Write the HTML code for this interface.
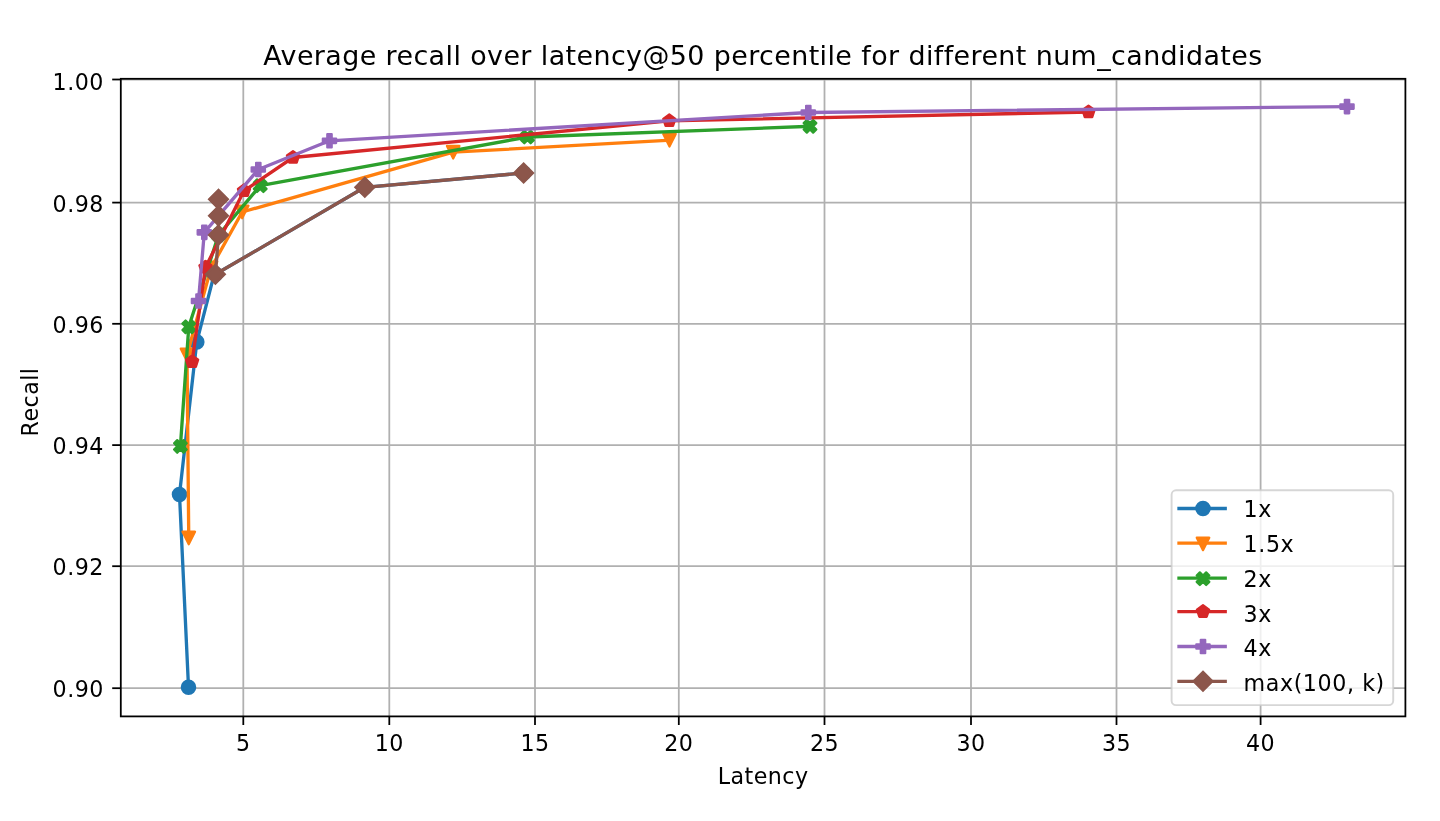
<!DOCTYPE html>
<html lang="en">
<head>
<meta charset="utf-8">
<title>Average recall over latency@50 percentile for different num_candidates</title>
<style>html,body{margin:0;padding:0;background:#fff;}body{width:1440px;height:821px;overflow:hidden;}svg{display:block;}</style>
</head>
<body>
<svg width="1440" height="821" viewBox="0 0 1440 821" font-family='"DejaVu Sans", "Liberation Sans", sans-serif' fill="#000" letter-spacing="0.45">
<rect width="1440" height="821" fill="#fff"/>
<g stroke="#b0b0b0" stroke-width="1.78" fill="none">
<line x1="243.3" y1="78.8" x2="243.3" y2="716.4"/>
<line x1="389.3" y1="78.8" x2="389.3" y2="716.4"/>
<line x1="535" y1="78.8" x2="535" y2="716.4"/>
<line x1="678.8" y1="78.8" x2="678.8" y2="716.4"/>
<line x1="824.5" y1="78.8" x2="824.5" y2="716.4"/>
<line x1="971" y1="78.8" x2="971" y2="716.4"/>
<line x1="1116.5" y1="78.8" x2="1116.5" y2="716.4"/>
<line x1="1260.6" y1="78.8" x2="1260.6" y2="716.4"/>
<line x1="120.8" y1="79.5" x2="1405.4" y2="79.5"/>
<line x1="120.8" y1="202.6" x2="1405.4" y2="202.6"/>
<line x1="120.8" y1="323.8" x2="1405.4" y2="323.8"/>
<line x1="120.8" y1="445.1" x2="1405.4" y2="445.1"/>
<line x1="120.8" y1="566.2" x2="1405.4" y2="566.2"/>
<line x1="120.8" y1="688.2" x2="1405.4" y2="688.2"/>
</g>
<g stroke="#000" stroke-width="1.78" fill="none">
<line x1="243.3" y1="716.4" x2="243.3" y2="725"/>
<line x1="389.3" y1="716.4" x2="389.3" y2="725"/>
<line x1="535" y1="716.4" x2="535" y2="725"/>
<line x1="678.8" y1="716.4" x2="678.8" y2="725"/>
<line x1="824.5" y1="716.4" x2="824.5" y2="725"/>
<line x1="971" y1="716.4" x2="971" y2="725"/>
<line x1="1116.5" y1="716.4" x2="1116.5" y2="725"/>
<line x1="1260.6" y1="716.4" x2="1260.6" y2="725"/>
<line x1="112.2" y1="79.5" x2="120.8" y2="79.5"/>
<line x1="112.2" y1="202.6" x2="120.8" y2="202.6"/>
<line x1="112.2" y1="323.8" x2="120.8" y2="323.8"/>
<line x1="112.2" y1="445.1" x2="120.8" y2="445.1"/>
<line x1="112.2" y1="566.2" x2="120.8" y2="566.2"/>
<line x1="112.2" y1="688.2" x2="120.8" y2="688.2"/>
</g>
<clipPath id="axclip"><rect x="120.8" y="78.8" width="1284.6" height="637.6"/></clipPath>
<g clip-path="url(#axclip)">
<polyline points="188.5,687.2 179.5,494.5 196.8,341.9 213.9,275.4 215.4,274.3 364.8,187.3 523.6,173" fill="none" stroke="#1f77b4" stroke-width="3.33" stroke-linejoin="round" stroke-linecap="square"/>
<circle cx="188.5" cy="687.2" r="6.67" fill="#1f77b4" stroke="#1f77b4" stroke-width="2.22"/>
<circle cx="179.5" cy="494.5" r="6.67" fill="#1f77b4" stroke="#1f77b4" stroke-width="2.22"/>
<circle cx="196.8" cy="341.9" r="6.67" fill="#1f77b4" stroke="#1f77b4" stroke-width="2.22"/>
<circle cx="215.4" cy="274.3" r="6.67" fill="#1f77b4" stroke="#1f77b4" stroke-width="2.22"/>
<circle cx="364.8" cy="187.3" r="6.67" fill="#1f77b4" stroke="#1f77b4" stroke-width="2.22"/>
<circle cx="523.6" cy="173" r="6.67" fill="#1f77b4" stroke="#1f77b4" stroke-width="2.22"/>
<polyline points="188.75,538 187,355 211,268 242.2,212 453.2,152.2 669.5,140.3" fill="none" stroke="#ff7f0e" stroke-width="3.33" stroke-linejoin="round" stroke-linecap="square"/>
<polygon points="188.75,544.27 195.02,531.73 182.48,531.73" fill="#ff7f0e" stroke="#ff7f0e" stroke-width="2.22" stroke-linejoin="round"/>
<polygon points="187,361.27 193.27,348.73 180.73,348.73" fill="#ff7f0e" stroke="#ff7f0e" stroke-width="2.22" stroke-linejoin="round"/>
<polygon points="211,274.27 217.27,261.73 204.73,261.73" fill="#ff7f0e" stroke="#ff7f0e" stroke-width="2.22" stroke-linejoin="round"/>
<polygon points="242.2,218.27 248.47,205.73 235.93,205.73" fill="#ff7f0e" stroke="#ff7f0e" stroke-width="2.22" stroke-linejoin="round"/>
<polygon points="453.2,158.47 459.47,145.93 446.93,145.93" fill="#ff7f0e" stroke="#ff7f0e" stroke-width="2.22" stroke-linejoin="round"/>
<polygon points="669.5,146.57 675.77,134.03 663.23,134.03" fill="#ff7f0e" stroke="#ff7f0e" stroke-width="2.22" stroke-linejoin="round"/>
<polyline points="180.4,446.4 188.75,326.8 218.5,235.1 260.2,185.7 527.5,137 810,126.3" fill="none" stroke="#2ca02c" stroke-width="3.33" stroke-linejoin="round" stroke-linecap="square"/>
<polygon points="177.23,440.07 180.4,443.23 183.57,440.07 186.73,443.23 183.57,446.4 186.73,449.57 183.57,452.73 180.4,449.57 177.23,452.73 174.07,449.57 177.23,446.4 174.07,443.23" fill="#2ca02c" stroke="#2ca02c" stroke-width="2.22" stroke-linejoin="round"/>
<polygon points="185.58,320.47 188.75,323.63 191.92,320.47 195.08,323.63 191.92,326.8 195.08,329.97 191.92,333.13 188.75,329.97 185.58,333.13 182.42,329.97 185.58,326.8 182.42,323.63" fill="#2ca02c" stroke="#2ca02c" stroke-width="2.22" stroke-linejoin="round"/>
<polygon points="215.33,228.77 218.5,231.93 221.67,228.77 224.83,231.93 221.67,235.1 224.83,238.27 221.67,241.43 218.5,238.27 215.33,241.43 212.17,238.27 215.33,235.1 212.17,231.93" fill="#2ca02c" stroke="#2ca02c" stroke-width="2.22" stroke-linejoin="round"/>
<polygon points="257.03,179.37 260.2,182.53 263.37,179.37 266.53,182.53 263.37,185.7 266.53,188.87 263.37,192.03 260.2,188.87 257.03,192.03 253.87,188.87 257.03,185.7 253.87,182.53" fill="#2ca02c" stroke="#2ca02c" stroke-width="2.22" stroke-linejoin="round"/>
<polygon points="524.33,130.67 527.5,133.83 530.67,130.67 533.83,133.83 530.67,137 533.83,140.17 530.67,143.33 527.5,140.17 524.33,143.33 521.17,140.17 524.33,137 521.17,133.83" fill="#2ca02c" stroke="#2ca02c" stroke-width="2.22" stroke-linejoin="round"/>
<polygon points="806.83,119.97 810,123.13 813.17,119.97 816.33,123.13 813.17,126.3 816.33,129.47 813.17,132.63 810,129.47 806.83,132.63 803.67,129.47 806.83,126.3 803.67,123.13" fill="#2ca02c" stroke="#2ca02c" stroke-width="2.22" stroke-linejoin="round"/>
<polyline points="192.1,361.7 205.5,267.3 244,190.8 293,157.5 669.3,120.8 1088.5,112" fill="none" stroke="#d62728" stroke-width="3.33" stroke-linejoin="round" stroke-linecap="square"/>
<polygon points="192.1,355.3 198.19,359.72 195.86,366.88 188.34,366.88 186.01,359.72" fill="#d62728" stroke="#d62728" stroke-width="2.22" stroke-linejoin="round"/>
<polygon points="205.5,260.9 211.59,265.32 209.26,272.48 201.74,272.48 199.41,265.32" fill="#d62728" stroke="#d62728" stroke-width="2.22" stroke-linejoin="round"/>
<polygon points="244,184.4 250.09,188.82 247.76,195.98 240.24,195.98 237.91,188.82" fill="#d62728" stroke="#d62728" stroke-width="2.22" stroke-linejoin="round"/>
<polygon points="293,151.1 299.09,155.52 296.76,162.68 289.24,162.68 286.91,155.52" fill="#d62728" stroke="#d62728" stroke-width="2.22" stroke-linejoin="round"/>
<polygon points="669.3,114.4 675.39,118.82 673.06,125.98 665.54,125.98 663.21,118.82" fill="#d62728" stroke="#d62728" stroke-width="2.22" stroke-linejoin="round"/>
<polygon points="1088.5,105.6 1094.59,110.02 1092.26,117.18 1084.74,117.18 1082.41,110.02" fill="#d62728" stroke="#d62728" stroke-width="2.22" stroke-linejoin="round"/>
<polyline points="198.5,301 204.3,232.4 258.3,169.5 329.5,140.8 808.3,112.5 1347,106.6" fill="none" stroke="#9467bd" stroke-width="3.33" stroke-linejoin="round" stroke-linecap="square"/>
<polygon points="196.28,294.33 200.72,294.33 200.72,298.78 205.17,298.78 205.17,303.22 200.72,303.22 200.72,307.67 196.28,307.67 196.28,303.22 191.83,303.22 191.83,298.78 196.28,298.78" fill="#9467bd" stroke="#9467bd" stroke-width="2.22" stroke-linejoin="round"/>
<polygon points="202.08,225.73 206.52,225.73 206.52,230.18 210.97,230.18 210.97,234.62 206.52,234.62 206.52,239.07 202.08,239.07 202.08,234.62 197.63,234.62 197.63,230.18 202.08,230.18" fill="#9467bd" stroke="#9467bd" stroke-width="2.22" stroke-linejoin="round"/>
<polygon points="256.08,162.83 260.52,162.83 260.52,167.28 264.97,167.28 264.97,171.72 260.52,171.72 260.52,176.17 256.08,176.17 256.08,171.72 251.63,171.72 251.63,167.28 256.08,167.28" fill="#9467bd" stroke="#9467bd" stroke-width="2.22" stroke-linejoin="round"/>
<polygon points="327.28,134.13 331.72,134.13 331.72,138.58 336.17,138.58 336.17,143.02 331.72,143.02 331.72,147.47 327.28,147.47 327.28,143.02 322.83,143.02 322.83,138.58 327.28,138.58" fill="#9467bd" stroke="#9467bd" stroke-width="2.22" stroke-linejoin="round"/>
<polygon points="806.08,105.83 810.52,105.83 810.52,110.28 814.97,110.28 814.97,114.72 810.52,114.72 810.52,119.17 806.08,119.17 806.08,114.72 801.63,114.72 801.63,110.28 806.08,110.28" fill="#9467bd" stroke="#9467bd" stroke-width="2.22" stroke-linejoin="round"/>
<polygon points="1344.78,99.93 1349.22,99.93 1349.22,104.38 1353.67,104.38 1353.67,108.82 1349.22,108.82 1349.22,113.27 1344.78,113.27 1344.78,108.82 1340.33,108.82 1340.33,104.38 1344.78,104.38" fill="#9467bd" stroke="#9467bd" stroke-width="2.22" stroke-linejoin="round"/>
<polyline points="218.5,199.2 218.5,215.8 218.5,235.1 215.4,274.3 364.8,187.3 523.6,173" fill="none" stroke="#8c564b" stroke-width="3.33" stroke-linejoin="round" stroke-linecap="square"/>
<polygon points="218.5,189.77 227.93,199.2 218.5,208.63 209.07,199.2" fill="#8c564b" stroke="#8c564b" stroke-width="2.22" stroke-linejoin="miter"/>
<polygon points="218.5,206.37 227.93,215.8 218.5,225.23 209.07,215.8" fill="#8c564b" stroke="#8c564b" stroke-width="2.22" stroke-linejoin="miter"/>
<polygon points="218.5,225.67 227.93,235.1 218.5,244.53 209.07,235.1" fill="#8c564b" stroke="#8c564b" stroke-width="2.22" stroke-linejoin="miter"/>
<polygon points="215.4,264.87 224.83,274.3 215.4,283.73 205.97,274.3" fill="#8c564b" stroke="#8c564b" stroke-width="2.22" stroke-linejoin="miter"/>
<polygon points="364.8,177.87 374.23,187.3 364.8,196.73 355.37,187.3" fill="#8c564b" stroke="#8c564b" stroke-width="2.22" stroke-linejoin="miter"/>
<polygon points="523.6,163.57 533.03,173 523.6,182.43 514.17,173" fill="#8c564b" stroke="#8c564b" stroke-width="2.22" stroke-linejoin="miter"/>
</g>
<rect x="120.8" y="78.8" width="1284.6" height="637.6" fill="none" stroke="#000" stroke-width="1.78" stroke-linejoin="miter"/>
<text x="243.3" y="750.6" font-size="22.2" text-anchor="middle">5</text>
<text x="389.3" y="750.6" font-size="22.2" text-anchor="middle">10</text>
<text x="535" y="750.6" font-size="22.2" text-anchor="middle">15</text>
<text x="678.8" y="750.6" font-size="22.2" text-anchor="middle">20</text>
<text x="824.5" y="750.6" font-size="22.2" text-anchor="middle">25</text>
<text x="971" y="750.6" font-size="22.2" text-anchor="middle">30</text>
<text x="1116.5" y="750.6" font-size="22.2" text-anchor="middle">35</text>
<text x="1260.6" y="750.6" font-size="22.2" text-anchor="middle">40</text>
<text x="103.8" y="89.6" font-size="22.2" text-anchor="end">1.00</text>
<text x="103.8" y="211.5" font-size="22.2" text-anchor="end">0.98</text>
<text x="103.8" y="332.7" font-size="22.2" text-anchor="end">0.96</text>
<text x="103.8" y="454" font-size="22.2" text-anchor="end">0.94</text>
<text x="103.8" y="575.1" font-size="22.2" text-anchor="end">0.92</text>
<text x="103.8" y="697.4" font-size="22.2" text-anchor="end">0.90</text>
<text x="763.1" y="783.8" font-size="22.2" text-anchor="middle">Latency</text>
<text transform="translate(38.1,402) rotate(-90)" font-size="22.2" text-anchor="middle">Recall</text>
<text x="763" y="65" font-size="26.9" text-anchor="middle" letter-spacing="0.41">Average recall over latency@50 percentile for different num_candidates</text>
<rect x="1171.6" y="490.3" width="221.6" height="214.8" rx="4.4" ry="4.4" fill="#fff" fill-opacity="0.8" stroke="#ccc" stroke-opacity="0.8" stroke-width="1.9"/>
<line x1="1179" y1="508.5" x2="1225.2" y2="508.5" stroke="#1f77b4" stroke-width="3.33" stroke-linecap="square"/>
<circle cx="1203" cy="508.5" r="6.67" fill="#1f77b4" stroke="#1f77b4" stroke-width="2.22"/>
<text x="1243.6" y="516.9" font-size="22.2" letter-spacing="0.57">1x</text>
<line x1="1179" y1="543.1" x2="1225.2" y2="543.1" stroke="#ff7f0e" stroke-width="3.33" stroke-linecap="square"/>
<polygon points="1203,550.17 1209.27,537.63 1196.73,537.63" fill="#ff7f0e" stroke="#ff7f0e" stroke-width="2.22" stroke-linejoin="round"/>
<text x="1243.6" y="552" font-size="22.2" letter-spacing="0.57">1.5x</text>
<line x1="1179" y1="578.1" x2="1225.2" y2="578.1" stroke="#2ca02c" stroke-width="3.33" stroke-linecap="square"/>
<polygon points="1199.83,572.37 1203,575.53 1206.17,572.37 1209.33,575.53 1206.17,578.7 1209.33,581.87 1206.17,585.03 1203,581.87 1199.83,585.03 1196.67,581.87 1199.83,578.7 1196.67,575.53" fill="#2ca02c" stroke="#2ca02c" stroke-width="2.22" stroke-linejoin="round"/>
<text x="1243.6" y="586.6" font-size="22.2" letter-spacing="0.57">2x</text>
<line x1="1179" y1="611.6" x2="1225.2" y2="611.6" stroke="#d62728" stroke-width="3.33" stroke-linecap="square"/>
<polygon points="1203,605.2 1209.09,609.62 1206.76,616.78 1199.24,616.78 1196.91,609.62" fill="#d62728" stroke="#d62728" stroke-width="2.22" stroke-linejoin="round"/>
<text x="1243.6" y="621.5" font-size="22.2" letter-spacing="0.57">3x</text>
<line x1="1179" y1="646.5" x2="1225.2" y2="646.5" stroke="#9467bd" stroke-width="3.33" stroke-linecap="square"/>
<polygon points="1200.78,639.83 1205.22,639.83 1205.22,644.28 1209.67,644.28 1209.67,648.72 1205.22,648.72 1205.22,653.17 1200.78,653.17 1200.78,648.72 1196.33,648.72 1196.33,644.28 1200.78,644.28" fill="#9467bd" stroke="#9467bd" stroke-width="2.22" stroke-linejoin="round"/>
<text x="1243.6" y="655.8" font-size="22.2" letter-spacing="0.57">4x</text>
<line x1="1179" y1="681.3" x2="1225.2" y2="681.3" stroke="#8c564b" stroke-width="3.33" stroke-linecap="square"/>
<polygon points="1203,671.87 1212.43,681.3 1203,690.73 1193.57,681.3" fill="#8c564b" stroke="#8c564b" stroke-width="2.22" stroke-linejoin="miter"/>
<text x="1243.6" y="691.1" font-size="22.2" letter-spacing="0.57">max(100, k)</text>
</svg>
</body>
</html>
